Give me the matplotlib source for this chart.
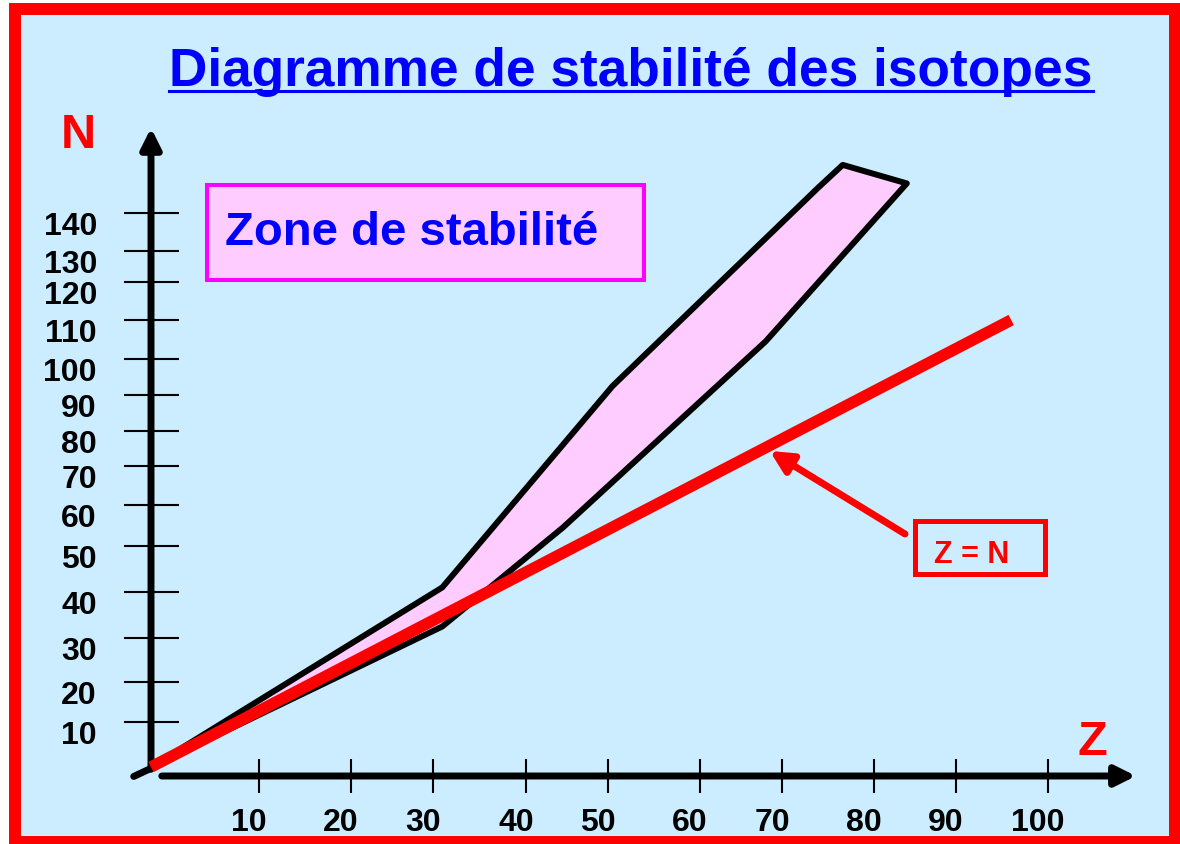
import numpy as np
import matplotlib
matplotlib.use("Agg")
import matplotlib.pyplot as plt
from matplotlib.lines import Line2D
from matplotlib.patches import Polygon, Rectangle

# outline of the stability band (Z, N): upper edge, then back along the lower edge
zone_z = [0, 31, 50.5, 74, 76.6, 84, 68, 44.5, 31]
zone_n = [0, 41, 92.5, 147, 153, 148, 104.5, 54.5, 32.5]

# red reference line labelled "Z = N"
diag_z = [0, 96]
diag_n = [0, 110]

# point on the red line the callout arrow aims at
callout_z = 68.5
callout_n = 74.3

z_ticks = [10, 20, 30, 40, 50, 60, 70, 80, 90, 100]
n_ticks = [10, 20, 30, 40, 50, 60, 70, 80, 90, 100, 110, 120, 130, 140]

W, H = 1180, 845
BG = "#CCECFF"
PINK = "#FFCCFF"
RED = "#FF0000"
BLUE = "#0000FF"
MAGENTA = "#FF00FF"
BOLD = dict(fontweight="bold", family=["Liberation Sans", "DejaVu Sans"])

# the original axes are hand drawn and the graduations are not evenly spaced,
# so each graduation is pinned to where it sits on the page (px from left / top)
Z_KNOTS = [-50, 0] + z_ticks + [250]
X_PIX = [151 - 50 * 10.8, 151, 259, 351, 433, 526, 608, 700, 782, 874, 956, 1048,
         1048 + 150 * 8.8]
N_KNOTS = [-50, 0] + n_ticks + [160, 300]
Y_PIX = [768 + 50 * 4.5, 768, 723, 683, 639, 593, 547, 506, 467, 432, 396, 360,
         321, 283, 252, 214, 140, 140 - 140 * 3.7]
Y_UP = [H - p for p in Y_PIX]


def z_fwd(z):
    return np.interp(z, Z_KNOTS, X_PIX)


def z_inv(p):
    return np.interp(p, X_PIX, Z_KNOTS)


def n_fwd(n):
    return np.interp(n, N_KNOTS, Y_UP)


def n_inv(p):
    return np.interp(p, Y_UP, N_KNOTS)


def fig_xy(x, y_top):
    return x / W, 1 - y_top / H


fig = plt.figure(figsize=(W / 100, H / 100), dpi=100, facecolor="white")

# light blue page with the red frame
fig.add_artist(Rectangle(fig_xy(15, 843), (1175 - 15) / W, (843 - 10) / H,
                         transform=fig.transFigure, fc=BG, ec=RED, lw=8.6,
                         zorder=-10))

ax = fig.add_axes([0, 0, 1, 1])
ax.patch.set_visible(False)
ax.set_xscale("function", functions=(z_fwd, z_inv))
ax.set_yscale("function", functions=(n_fwd, n_inv))
ax.set_xlim(z_inv(0), z_inv(W))
ax.set_ylim(n_inv(0), n_inv(H))

for spine in ax.spines.values():
    spine.set_visible(False)
ax.spines["left"].set_position(("data", 0))
ax.spines["bottom"].set_position(("data", -2))
ax.set_xticks(z_ticks)
ax.set_yticks(n_ticks)
ax.tick_params(axis="y", direction="inout", length=39.6, width=1.5,
               left=True, right=False, labelleft=False)
ax.tick_params(axis="x", direction="inout", length=23.8, width=1.5,
               bottom=True, top=False, labelbottom=False)

# axes drawn as thick arrows
axis_arrow = dict(arrowstyle="-|>,head_length=0.4,head_width=0.2", color="black",
                  lw=5, mutation_scale=30, shrinkA=0, shrinkB=0)
ax.annotate("", xy=(0, 163), xytext=(0, -0.5), arrowprops=axis_arrow)
ax.annotate("", xy=(110, -2), xytext=(1, -2), arrowprops=axis_arrow)
ax.plot([-1.6, 0], [-2.1, -0.3], color="black", lw=5, solid_capstyle="round")

for n in n_ticks:
    ax.annotate(str(n), xy=(0, n), xytext=(-54 * 0.72, -21 * 0.72),
                textcoords="offset points", ha="right", va="baseline",
                fontsize=23, color="black", **BOLD)
for z in z_ticks:
    ax.annotate(str(z), xy=(z, -2), xytext=(-10 * 0.72, -54 * 0.72),
                textcoords="offset points", ha="center", va="baseline",
                fontsize=23, color="black", **BOLD)

ax.add_patch(Polygon(np.column_stack([zone_z, zone_n]), closed=True, fc=PINK,
                     ec="black", lw=4.3, joinstyle="round", zorder=2))
ax.plot(diag_z, diag_n, color=RED, lw=8.3, solid_capstyle="butt", zorder=3)

# "Z = N" callout
ax.annotate("", xy=(callout_z, callout_n), xytext=(905, H - 535),
            textcoords="figure pixels",
            arrowprops=dict(arrowstyle="-|>,head_length=0.4,head_width=0.2",
                            color=RED, lw=5, mutation_scale=33,
                            shrinkA=0, shrinkB=0),
            zorder=4)
fig.add_artist(Rectangle(fig_xy(914.5, 574.5), 130 / W, 53 / H,
                         transform=fig.transFigure, fill=False, ec=RED, lw=3.6))
fig.text(*fig_xy(972, 563), "Z = N", fontsize=22, color=RED,
         ha="center", va="baseline", **BOLD)

# "Zone de stabilité" legend box
fig.add_artist(Rectangle(fig_xy(207, 281), 437 / W, 95 / H,
                         transform=fig.transFigure, fc=PINK, ec=MAGENTA, lw=2.9))
fig.text(*fig_xy(225, 245), "Zone de stabilité", fontsize=34, color=BLUE,
         ha="left", va="baseline", **BOLD)

# axis names
fig.text(*fig_xy(78, 148), "N", fontsize=35, color=RED, ha="center",
         va="baseline", **BOLD)
fig.text(*fig_xy(1092, 755), "Z", fontsize=35, color=RED, ha="center",
         va="baseline", **BOLD)

# underlined title
title = fig.text(*fig_xy(631, 86), "Diagramme de stabilité des isotopes",
                 fontsize=38.3, color=BLUE, ha="center", va="baseline", **BOLD)
bb = title.get_window_extent(fig.canvas.get_renderer())
y_line = 1 - 92 / H
fig.add_artist(Line2D([bb.x0 / W, bb.x1 / W], [y_line, y_line],
                      transform=fig.transFigure, color=BLUE, lw=2.2))

fig.savefig("out.png", dpi=100, facecolor="white")
